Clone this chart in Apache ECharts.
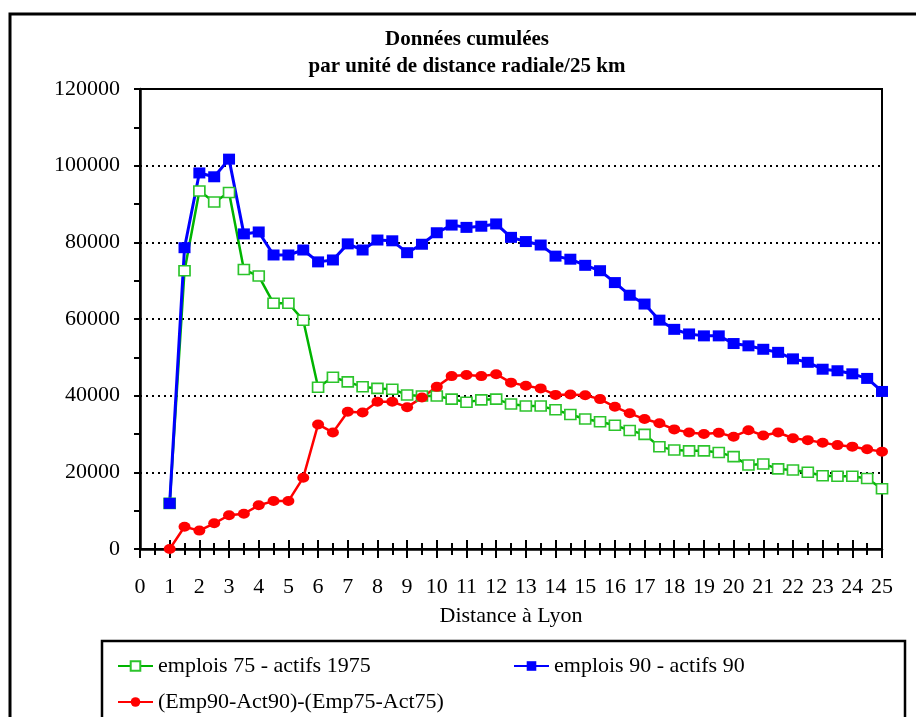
<!DOCTYPE html>
<html lang="fr">
<head>
  <meta charset="UTF-8">
  <title>Données cumulées</title>
  <style>
    html, body, #main {
      margin: 0;
      padding: 0;
      background: #fff;
    }
    #main {
      width: 916px;
      height: 717px;
    }
  </style>
</head>
<body>
  <div id="main"></div>
  <script src="https://cdn.jsdelivr.net/npm/echarts@6/dist/echarts.min.js"></script>
  <script>
    // distance à Lyon (unités de 25 km)
    const distances = [1, 1.5, 2, 2.5, 3, 3.5, 4, 4.5, 5, 5.5, 6, 6.5, 7, 7.5, 8, 8.5, 9, 9.5, 10, 10.5,
      11, 11.5, 12, 12.5, 13, 13.5, 14, 14.5, 15, 15.5, 16, 16.5, 17, 17.5, 18, 18.5, 19, 19.5, 20, 20.5,
      21, 21.5, 22, 22.5, 23, 23.5, 24, 24.5, 25];

    const emp75 = [11900, 72600, 93400, 90500, 93000, 72900, 71200, 64100, 64100, 59700, 42200, 44800,
      43600, 42300, 41900, 41700, 40200, 39900, 39900, 39100, 38300, 38900, 39100, 37800, 37300, 37300,
      36300, 35100, 33900, 33200, 32300, 30900, 29900, 26700, 25800, 25600, 25600, 25200, 24100, 21900,
      22200, 20900, 20600, 20000, 19100, 19000, 19000, 18400, 15700];

    const emp90 = [11900, 78600, 98100, 97100, 101700, 82200, 82700, 76700, 76700, 78000, 74900, 75400,
      79600, 78000, 80600, 80400, 77300, 79500, 82500, 84500, 83900, 84200, 84800, 81300, 80200, 79300,
      76400, 75600, 74000, 72600, 69500, 66200, 63900, 59700, 57300, 56100, 55600, 55600, 53600, 53000,
      52100, 51300, 49600, 48700, 46900, 46500, 45700, 44500, 41100];

    const diff = [0, 5800, 4800, 6700, 8800, 9200, 11400, 12500, 12500, 18600, 32500, 30400,
      35800, 35600, 38400, 38400, 37000, 39500, 42300, 45100, 45400, 45100, 45600, 43400, 42600, 41900,
      40200, 40300, 40100, 39100, 37100, 35400, 33900, 32800, 31200, 30400, 30000, 30300, 29300, 31000,
      29600, 30400, 28900, 28400, 27700, 27100, 26700, 26000, 25400];

    const names = ['emplois 75 - actifs 1975', 'emplois 90 - actifs 90', '(Emp90-Act90)-(Emp75-Act75)'];

    const font = 'Liberation Serif';
    const pairs = (ys) => distances.map((x, i) => [x, ys[i]]);

    const legendBase = {
      orient: 'horizontal',
      itemWidth: 35,
      itemHeight: 12,
      textStyle: { fontFamily: font, fontSize: 22, color: '#000' }
    };

    const chart = echarts.init(document.getElementById('main'));
    chart.setOption({
      animation: false,
      graphic: [
        { type: 'rect', shape: { x: 10, y: 14, width: 1000, height: 800 },
          style: { fill: 'none', stroke: '#000', lineWidth: 3 }, silent: true },
        { type: 'rect', shape: { x: 102, y: 641, width: 803, height: 200 },
          style: { fill: 'none', stroke: '#000', lineWidth: 2.5 }, silent: true },
        { type: 'text', x: 467, y: 40,
          style: { text: 'Données cumulées', font: 'bold 21px "Liberation Serif"', fill: '#000',
            align: 'center', verticalAlign: 'middle' } },
        { type: 'text', x: 467, y: 67,
          style: { text: 'par unité de distance radiale/25 km', font: 'bold 21px "Liberation Serif"', fill: '#000',
            align: 'center', verticalAlign: 'middle' } }
      ],
      legend: [
        Object.assign({ data: [names[0]], left: 112, top: 650 }, legendBase),
        Object.assign({ data: [names[1]], left: 508, top: 650 }, legendBase),
        Object.assign({ data: [names[2]], left: 112, top: 686 }, legendBase)
      ],
      grid: {
        left: 140, right: 34, top: 89, bottom: 168,
        show: true, borderColor: '#000', borderWidth: 2, backgroundColor: 'transparent'
      },
      xAxis: [{
        type: 'value', min: 0, max: 25, interval: 1,
        name: 'Distance à Lyon', nameLocation: 'middle', nameGap: 56,
        nameTextStyle: { fontFamily: font, fontSize: 22, color: '#000' },
        axisLine: { lineStyle: { color: '#000', width: 2.5 } },
        axisTick: { length: 9, lineStyle: { color: '#000', width: 2 } },
        minorTick: { show: true, splitNumber: 2, length: 6, lineStyle: { color: '#000', width: 2 } },
        axisLabel: { fontFamily: font, fontSize: 22, color: '#000', margin: 27 },
        splitLine: { show: false }
      }, {
        type: 'value', min: 0, max: 25, interval: 1, position: 'bottom',
        axisLine: { show: false },
        axisTick: { inside: true, length: 9, lineStyle: { color: '#000', width: 2 } },
        minorTick: { show: true, splitNumber: 2, length: 6, lineStyle: { color: '#000', width: 2 } },
        axisLabel: { show: false },
        splitLine: { show: false }
      }],
      yAxis: {
        type: 'value', min: 0, max: 120000, interval: 20000,
        axisLine: { show: true, lineStyle: { color: '#000', width: 2.5 } },
        axisTick: { show: true, length: 6, lineStyle: { color: '#000', width: 2 } },
        minorTick: { show: true, splitNumber: 2, length: 6, lineStyle: { color: '#000', width: 2 } },
        axisLabel: { fontFamily: font, fontSize: 22, color: '#000', margin: 20,
          formatter: (v) => String(v) },
        splitLine: { show: true, lineStyle: { color: '#000', width: 2, type: [2, 4] } }
      },
      series: [{
        name: names[0], type: 'line', data: pairs(emp75),
        symbol: 'rect', symbolSize: [11, 10],
        lineStyle: { color: '#00b400', width: 2.5 },
        itemStyle: { color: '#fff', borderColor: '#2cc42c', borderWidth: 1.6 }
      }, {
        name: names[1], type: 'line', data: pairs(emp90),
        symbol: 'rect', symbolSize: [12, 11],
        lineStyle: { color: '#0000ff', width: 3 },
        itemStyle: { color: '#0000ff' }
      }, {
        name: names[2], type: 'line', data: pairs(diff),
        symbol: 'circle', symbolSize: [12, 10],
        lineStyle: { color: '#ff0000', width: 2.5 },
        itemStyle: { color: '#ff0000' }
      }]
    });
  </script>
</body>
</html>
